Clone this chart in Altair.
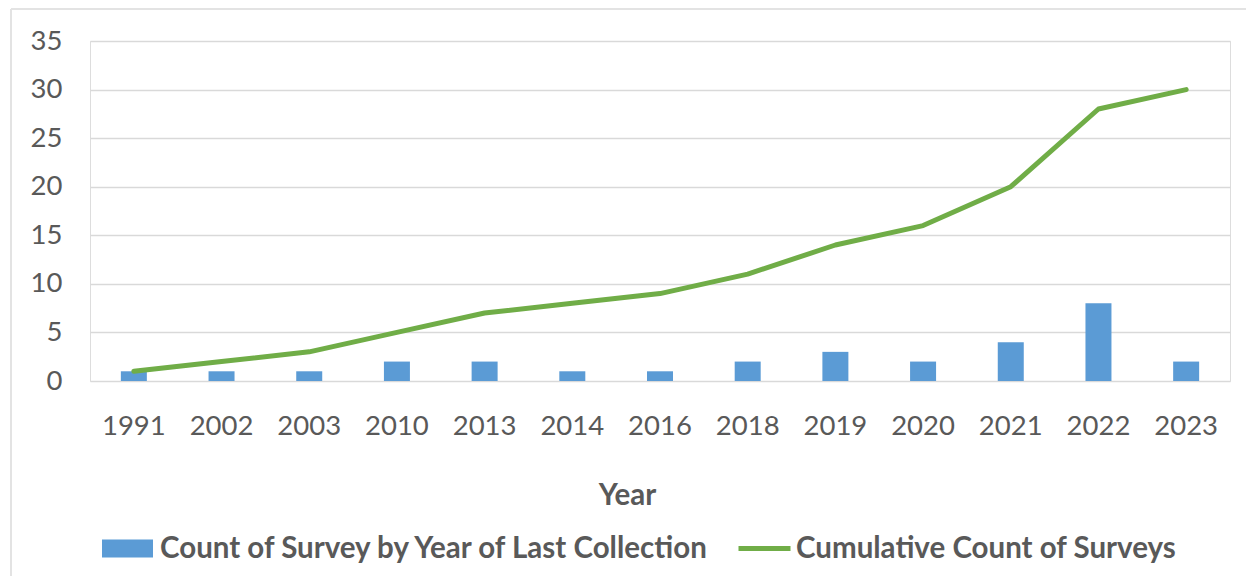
import altair as alt
import pandas as pd

years = ["1991", "2002", "2003", "2010", "2013", "2014", "2016",
         "2018", "2019", "2020", "2021", "2022", "2023"]
counts = [1, 1, 1, 2, 2, 1, 1, 2, 3, 2, 4, 8, 2]
cumulative = [1, 2, 3, 5, 7, 8, 9, 11, 14, 16, 20, 28, 30]
y_ticks = [0, 5, 10, 15, 20, 25, 30, 35]
bar_label = "Count of Survey by Year of Last Collection"
line_label = "Cumulative Count of Surveys"

BLUE = "#5B9BD5"
GREEN = "#70AD47"
TEXT = "#595959"
GRID = "#D9D9D9"
FRAME = "#E3E3E3"
FONT = "Lato"

df = pd.DataFrame({
    "Year": years,
    "Count": counts,
    "Cumulative": cumulative,
    "bar_series": bar_label,
    "line_series": line_label,
})

y_axis = alt.Axis(values=y_ticks, title=None, ticks=False, domain=False,
                  gridColor=GRID, gridWidth=1.5,
                  labelFont=FONT, labelFontSize=27.5, labelColor=TEXT, labelPadding=28)
y_scale = alt.Scale(domain=[0, 35])

x_enc = alt.X(
    "Year:N", sort=years,
    scale=alt.Scale(paddingInner=0, paddingOuter=0),
    axis=alt.Axis(title="Year", labelAngle=0, ticks=False, domain=False, grid=False,
                  labelFont=FONT, labelFontSize=27.5, labelColor=TEXT, labelPadding=31,
                  titleFont=FONT, titleFontSize=29.5, titleFontWeight="bold", titleColor=TEXT,
                  titleX=537, titleAlign="center",
                  titleY=123, titleBaseline="alphabetic"),
)

bars = alt.Chart(df).mark_bar(size=26).encode(
    x=x_enc,
    y=alt.Y("Count:Q", scale=y_scale, axis=y_axis),
    fill=alt.Fill("bar_series:N", scale=alt.Scale(domain=[bar_label], range=[BLUE]),
                  legend=alt.Legend(title=None, orient="none", legendX=12, legendY=482,
                                    symbolType="M-1,-0.35L1,-0.35L1,0.35L-1,0.35Z",
                                    symbolSize=2601, symbolStrokeWidth=0, symbolOpacity=1,
                                    labelFont=FONT, labelFontSize=29.5, labelFontWeight="bold",
                                    labelColor=TEXT, labelOffset=7, padding=0, labelLimit=900)),
)

line = alt.Chart(df).mark_line(strokeWidth=5, strokeCap="round", strokeJoin="round").encode(
    x=alt.X("Year:N", sort=years),
    y=alt.Y("Cumulative:Q", scale=y_scale, axis=y_axis),
    stroke=alt.Stroke("line_series:N", scale=alt.Scale(domain=[line_label], range=[GREEN]),
                      legend=alt.Legend(title=None, orient="none", legendX=646, legendY=479,
                                        symbolType="stroke", symbolSize=2704, symbolStrokeWidth=5,
                                        labelFont=FONT, labelFontSize=29.5, labelFontWeight="bold",
                                        labelColor=TEXT, labelOffset=3, padding=0, labelLimit=900)),
)

frame_top = alt.Chart(df).mark_rule(color=FRAME, strokeWidth=1.5).encode(
    x=alt.value(-79), x2=alt.value(1170), y=alt.value(-32)
)
frame_left = alt.Chart(df).mark_rule(color=FRAME, strokeWidth=1.5).encode(
    x=alt.value(-79), y=alt.value(-32), y2=alt.value(600)
)

chart = alt.layer(frame_top, frame_left, bars, line).properties(
    width=1140, height=340,
    padding={"left": 82, "top": 33, "right": 16, "bottom": 195},
    autosize=alt.AutoSizeParams(type="none"),
).configure_view(strokeWidth=0).configure(background="white")

chart.save("out.html", embed_options={"renderer": "svg", "actions": False})
